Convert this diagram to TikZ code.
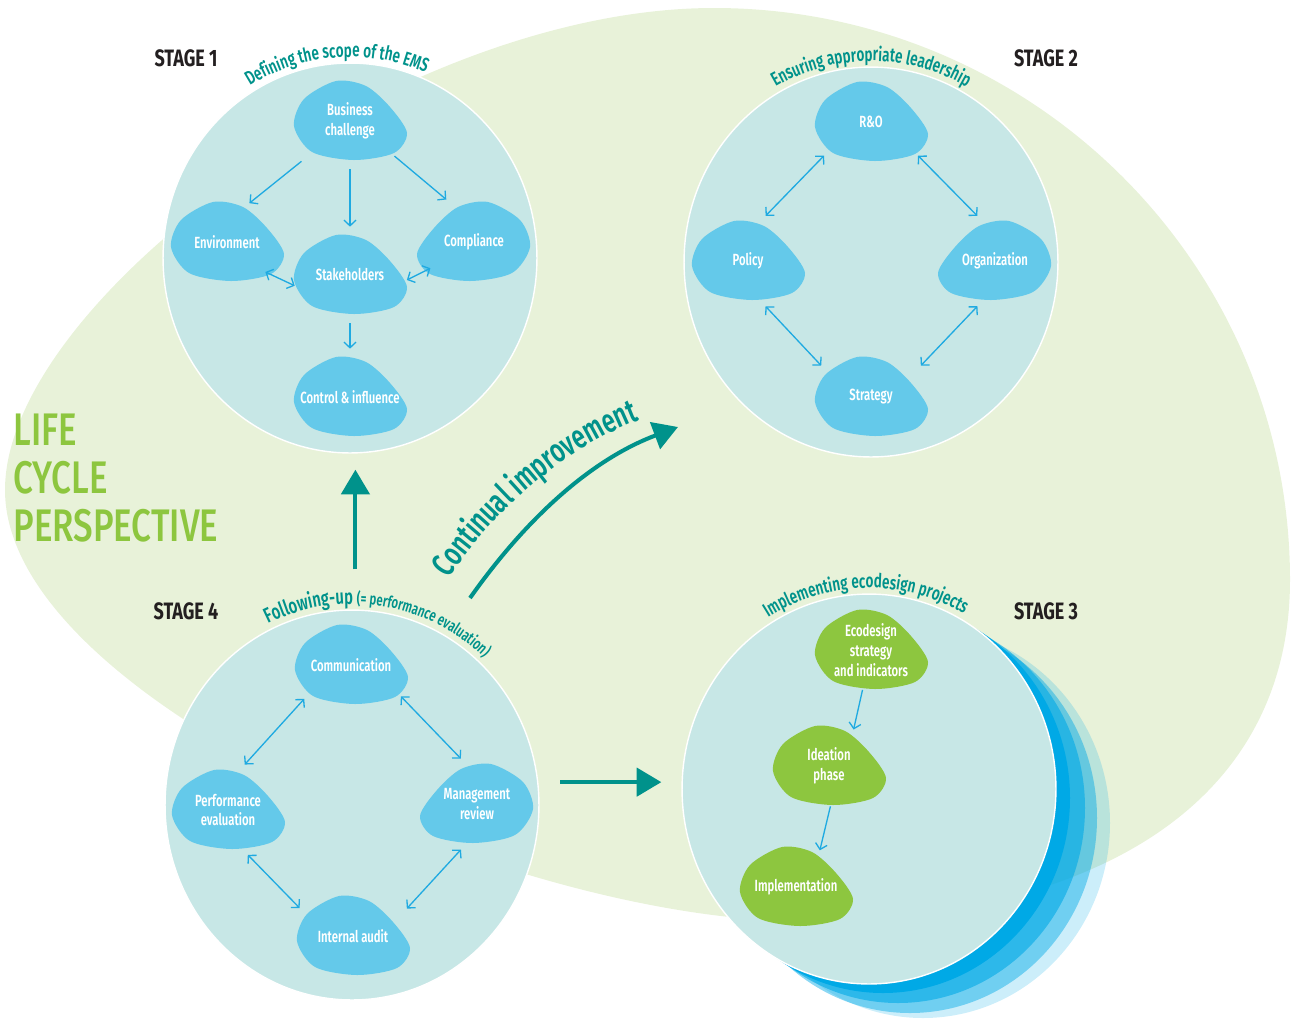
\documentclass[tikz,border=0pt]{standalone}
\usepackage{fontspec}
\setmainfont{Fira Sans}[FakeStretch=0.78]
\newfontfamily\mediumfont{Fira Sans SemiBold}[FakeStretch=0.7]
\newfontfamily\stagefont{Fira Sans Bold}[FakeStretch=0.76]
\newfontfamily\lifefont{Fira Sans Medium}[FakeStretch=0.765]
\usepackage{tikz}
\usetikzlibrary{shapes.geometric}
\usetikzlibrary{arrows.meta}
\usetikzlibrary{decorations.text}

\definecolor{MeadowGreen}{HTML}{E8F2D9}
\definecolor{PoolBlue}{HTML}{C7E7E6}
\definecolor{PebbleBlue}{HTML}{64C9EA}
\definecolor{PebbleGreen}{HTML}{8DC63F}
\definecolor{LinkBlue}{HTML}{1FAAE1}
\definecolor{DeepTeal}{HTML}{00928B}
\definecolor{InkGrey}{HTML}{231F20}
\definecolor{WaveBlue}{HTML}{00A9E6}

\tikzset{
	stage circle/.style={ % the four big discs
			ellipse, fill=PoolBlue, draw=white, line width=0.8pt,
			minimum width=7.48cm, minimum height=7.8cm
		},
	pebble/.style={ % invisible anchor shape on top of each stone
			ellipse, inner xsep=-8pt, inner ysep=0pt,
			minimum width=2.28cm, minimum height=1.6cm,
			align=center, text=white,
			font=\mediumfont\fontsize{9.2}{11.3}\selectfont
		},
	stage label/.style={font=\stagefont\fontsize{13.5}{15}\selectfont, text=InkGrey},
	life label/.style={
			anchor=west, align=left, inner sep=0pt, text=PebbleGreen,
			font=\lifefont\fontsize{26}{27.3}\selectfont
		},
	caption/.style={ % text bent along a path
			decorate,
			decoration={text along path, text align=center, text color=DeepTeal}
		},
	big arrow/.style={draw=DeepTeal, line width=2.3pt, -{Triangle[length=14pt, width=16pt]}},
	every edge/.style={ % the thin links between stones
			draw=LinkBlue, line width=0.75pt,
			shorten <=0.16cm, shorten >=0.16cm
		},
	gapless/.style={shorten <=0pt, shorten >=0pt}
}

% stone: fill the pebble outline, then put the named node on it
\newcommand{\putstone}[5][]{%
	\fill[#4, shift={(#3)}, #1] plot[smooth cycle] coordinates {(-56,5) (-46,-22) (-14,-40) (16,-35) (40,-14) (57,12) (44,32) (4,39) (-38,31)};
	\node (#2) [pebble] at (#3) {#5};
}

\begin{document}
\begin{tikzpicture}[x=0.02cm, y=-0.02cm, >={Straight Barb[length=3.2pt, width=6.8pt]}]
	\useasboundingbox (0,0) rectangle (1292,1019);

	% Background
	\fill[MeadowGreen] (714,8) .. controls (1032,8) and (1290,264) .. (1290,580)
		.. controls (1290,800) and (1100,921) .. (800,921)
		.. controls (520,921) and (5,700) .. (5,490)
		.. controls (5,300) and (400,8) .. cycle;

	% Waves behind stage 3
	\coordinate (s3) at (869,789);
	\fill[WaveBlue, opacity=0.2] ([shift={(54,34)}]s3) circle[x radius=187, y radius=195];
	\fill[WaveBlue, opacity=0.45] ([shift={(41,29)}]s3) circle[x radius=187, y radius=195];
	\fill[WaveBlue, opacity=0.6] ([shift={(29,19)}]s3) circle[x radius=187, y radius=195];
	\fill[WaveBlue] ([shift={(14,9)}]s3) circle[x radius=187, y radius=195];

	% Stages
	\node (circ1) [stage circle] at (350,258) {};
	\node (circ2) [stage circle] at (871,262) {};
	\node (circ3) [stage circle] at (s3) {};
	\node (circ4) [stage circle] at (352,805) {};

	% Stones
	\putstone{busch}{350,121}{PebbleBlue}{Business\\challenge}
	\putstone{env}{227,242}{PebbleBlue}{Environment}
	\putstone[xscale=-1]{comp}{474,242}{PebbleBlue}{Compliance}
	\putstone{stake}{350,275}{PebbleBlue}{Stakeholders}
	\putstone{ctrl}{350,397}{PebbleBlue}{Control \& influence}

	\putstone{rando}{871,122}{PebbleBlue}{R\&O}
	\putstone{policy}{748,261}{PebbleBlue}{Policy}
	\putstone[xscale=-1]{org}{995,261}{PebbleBlue}{Organization}
	\putstone{strat}{871,397}{PebbleBlue}{Strategy}

	\putstone{ecostrat}{871,650}{PebbleGreen}{Ecodesign\\strategy\\and indicators}
	\putstone{ideation}{829,766}{PebbleGreen}{Ideation\\phase}
	\putstone{impl}{796,887}{PebbleGreen}{Implementation}

	\putstone{comm}{351,665}{PebbleBlue}{Communication}
	\putstone{perf}{228,810}{PebbleBlue}{Performance\\evaluation}
	\putstone[xscale=-1]{mgmt}{477,804}{PebbleBlue}{Management\\review}
	\putstone{audit}{353,936}{PebbleBlue}{Internal audit}

	% Links
	\path[->] (busch.220) edge[shorten <=0.3cm, shorten >=0.04cm] (env.61);
	\path[->] (busch.south) edge (stake.north);
	\path[->] (busch.322) edge (comp.120);
	\path[<->] (env.322) edge[gapless] (stake.191);
	\path[<->] (stake.355) edge[gapless] (comp.211);
	\path[->] (stake.south) edge (ctrl.north);

	\path[<->] (rando.214) edge (policy.73);
	\path[<->] (rando.326) edge (org.107);
	\path[<->] (policy.287) edge (strat.150);
	\path[<->] (org.253) edge (strat.30);

	\path[->] (ecostrat.258) edge[gapless] (ideation.56);
	\path[->] (ideation.272) edge[gapless] (impl.57);

	\path[<->] (comm.214) edge (perf.74);
	\path[<->] (comm.330) edge (mgmt.105);
	\path[<->] (perf.290) edge (audit.155);
	\path[<->] (mgmt.255) edge (audit.24);

	% Big arrows
	\coordinate (cistart) at (470,598);
	\coordinate (ciend) at (678,427);
	\draw[big arrow, shorten <=0.8cm, shorten >=0.32cm] (circ4.89) -- (circ4.89 |- circ1.south);
	\draw[big arrow, shorten <=0.44cm, shorten >=0.4cm] (circ4.7) -- (circ4.7 -| circ3.west);
	\draw[big arrow] (cistart) .. controls (525,520) and (590,460) .. (ciend);

	% Labels
	\path[caption, decoration={text={|\mediumfont\fontsize{19}{22}\selectfont|Continual improvement}}]
		(445,583) .. controls (495,510) and (560,450) .. (645,418);
	\path[caption, decoration={text={|\mediumfont\fontsize{11}{13}\selectfont|Defining the scope of the EMS}}]
		([shift={(-154:194 and 201)}]circ1.center) arc[start angle=-154, end angle=-34, x radius=194, y radius=201];
	\path[caption, decoration={text={|\mediumfont\fontsize{11}{13}\selectfont|Ensuring appropriate leadership}}]
		([shift={(-150:194 and 201)}]circ2.center) arc[start angle=-150, end angle=-30, x radius=194, y radius=201];
	\path[caption, decoration={text={|\mediumfont\fontsize{11}{13}\selectfont|Implementing ecodesign projects}}]
		([shift={(-151:194 and 201)}]circ3.center) arc[start angle=-151, end angle=-31, x radius=194, y radius=201];
	\path[caption, decoration={text={|\mediumfont\fontsize{12}{14}\selectfont|Following-up |\mediumfont\fontsize{9.3}{11}\selectfont|(= performance evaluation)}}]
		([shift={(-141.5:194 and 201)}]circ4.center) arc[start angle=-141.5, end angle=-21.5, x radius=194, y radius=201];

	\node (stage1) [stage label] at (186,58) {STAGE 1};
	\node (stage2) [stage label] at (1046,58) {STAGE 2};
	\node (stage3) [stage label] at (1046,611) {STAGE 3};
	\node (stage4) [stage label] at (186,611) {STAGE 4};

	\node (lifecycle) [life label] at (13,478) {LIFE\\CYCLE\\PERSPECTIVE};
\end{tikzpicture}
\end{document}
